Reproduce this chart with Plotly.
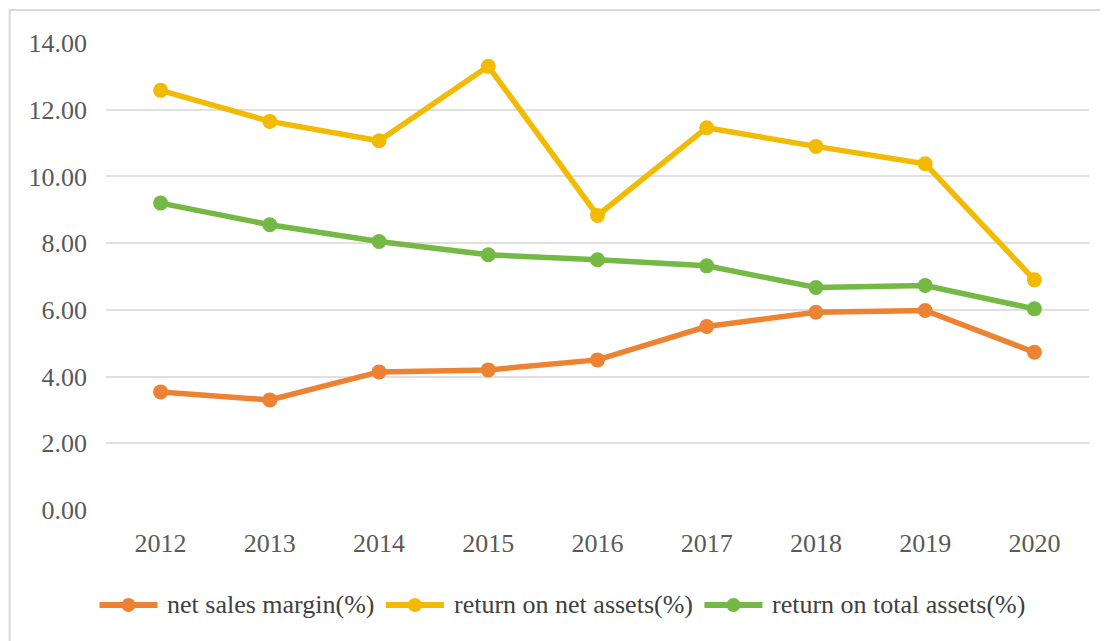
import plotly.graph_objects as go

years = ["2012", "2013", "2014", "2015", "2016", "2017", "2018", "2019", "2020"]
net_sales_margin = [3.54, 3.30, 4.14, 4.20, 4.50, 5.50, 5.93, 5.98, 4.73]
return_net_assets = [12.58, 11.65, 11.07, 13.30, 8.83, 11.46, 10.90, 10.38, 6.90]
return_total_assets = [9.20, 8.55, 8.05, 7.65, 7.50, 7.32, 6.67, 6.73, 6.03]
y_ticks = [0, 2, 4, 6, 8, 10, 12, 14]

series = [
    ("net sales margin(%)", net_sales_margin, "#EE8233"),
    ("return on net assets(%)", return_net_assets, "#F2BA00"),
    ("return on total assets(%)", return_total_assets, "#74B944"),
]

SERIF = "Liberation Serif, Times New Roman, serif"

fig = go.Figure()

for name, values, color in series:
    fig.add_trace(
        go.Scatter(
            x=years,
            y=values,
            mode="lines+markers",
            name=name,
            line=dict(color=color, width=5.5),
            marker=dict(color=color, size=15),
            showlegend=False,
        )
    )

# hand-made legend so the symbol line is as long as in the office chart
legend_y = -0.2034
legend_x = [0.0229, 0.3143, 0.6383]  # centre of each symbol, paper coords
for (name, values, color), lx in zip(series, legend_x):
    fig.add_shape(
        type="line",
        xref="paper",
        yref="paper",
        xsizemode="pixel",
        ysizemode="pixel",
        xanchor=lx,
        yanchor=legend_y,
        x0=-29,
        x1=29,
        y0=0,
        y1=0,
        line=dict(color=color, width=6),
    )
    fig.add_shape(
        type="circle",
        xref="paper",
        yref="paper",
        xsizemode="pixel",
        ysizemode="pixel",
        xanchor=lx,
        yanchor=legend_y,
        x0=-7,
        x1=7,
        y0=-7,
        y1=7,
        fillcolor=color,
        line=dict(color=color, width=0),
    )
    fig.add_annotation(
        x=lx + 0.0375,
        y=legend_y,
        xref="paper",
        yref="paper",
        text=name,
        showarrow=False,
        xanchor="left",
        yanchor="middle",
        font=dict(family=SERIF, size=26, color="#404040"),
    )

# outer chart frame
fig.add_shape(
    type="rect",
    xref="paper",
    yref="paper",
    x0=-0.098,
    x1=1.1,
    y0=-0.4,
    y1=1.0707,
    line=dict(color="#D9D9D9", width=2),
    layer="below",
)

# page body has an 8px margin, so the figure is a bit smaller than the window
fig.update_layout(
    width=1100,
    height=633,
    margin=dict(l=98, r=19, t=35, b=131),
    paper_bgcolor="white",
    plot_bgcolor="white",
    font=dict(family=SERIF, size=26, color="#595959"),
    showlegend=False,
)

fig.update_xaxes(
    type="category",
    range=[-0.5, 8.5],
    showgrid=False,
    showline=False,
    zeroline=False,
    ticks="",
    ticklabelstandoff=15,
)
fig.update_yaxes(
    range=[0, 14],
    tickvals=y_ticks,
    tickformat=".2f",
    showgrid=True,
    gridcolor="#E0E0E0",
    gridwidth=2,
    zeroline=False,
    showline=False,
    ticks="",
    ticklabelstandoff=18,
)

fig.write_html("out.html")
